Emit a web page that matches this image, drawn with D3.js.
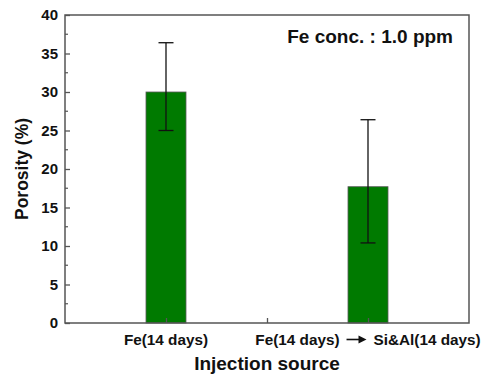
<!DOCTYPE html>
<html><head><meta charset="utf-8">
<script src="https://cdn.jsdelivr.net/npm/d3@7"></script>
<style>body{margin:0;background:#fff}svg{display:block}text{font-family:"Liberation Sans",Arial,sans-serif;font-weight:bold}</style>
</head><body>
<script>
const categories = ["Fe(14 days)", "Fe(14 days) \u2192 Si&Al(14 days)"];
const positions = [1, 3];
const porosity = [30.0, 17.7];
const errUpper = [36.4, 26.4];
const errLower = [25.0, 10.4];
const yTicks = [0, 5, 10, 15, 20, 25, 30, 35, 40];
const annotation = "Fe conc. : 1.0 ppm";

const W = 485, H = 374;
const svg = d3.select("body").append("svg").attr("width", W).attr("height", H);
const L = 65, R = 469, T = 15, B = 323;
const x = d3.scaleLinear().domain([0, 4]).range([L, R]);
const y = d3.scaleLinear().domain([0, 40]).range([B, T]);
const axisColor = "#555";
const ink = "#111";

// bars
svg.selectAll("rect.bar").data(porosity).enter().append("rect")
  .attr("x", (d, i) => x(positions[i]) - 20)
  .attr("width", 40)
  .attr("y", d => y(d))
  .attr("height", d => y(0) - y(d))
  .attr("fill", "#007a00").attr("stroke", "#5a5a5a").attr("stroke-width", 0.8);

// error bars
const eg = svg.append("g").attr("stroke", ink).attr("stroke-width", 1.3);
porosity.forEach((d, i) => {
  const cx = x(positions[i]);
  eg.append("line").attr("x1", cx).attr("x2", cx).attr("y1", y(errUpper[i])).attr("y2", y(errLower[i]));
  eg.append("line").attr("x1", cx - 7.5).attr("x2", cx + 7.5).attr("y1", y(errUpper[i])).attr("y2", y(errUpper[i]));
  eg.append("line").attr("x1", cx - 7.5).attr("x2", cx + 7.5).attr("y1", y(errLower[i])).attr("y2", y(errLower[i]));
});

// frame
svg.append("rect").attr("x", L).attr("y", T).attr("width", R - L).attr("height", B - T)
  .attr("fill", "none").attr("stroke", axisColor).attr("stroke-width", 1.5);

// y axis
const yAxis = d3.axisLeft(y).tickValues(yTicks).tickSize(-5).tickPadding(7).tickFormat(d3.format("d"));
const gy = svg.append("g").attr("transform", `translate(${L},0)`).call(yAxis);
gy.select(".domain").remove();
gy.selectAll(".tick line").attr("stroke", axisColor).attr("stroke-width", 1.3);
gy.selectAll(".tick text").attr("font-size", 15).attr("fill", ink).attr("font-weight", "bold")
  .attr("font-family", '"Liberation Sans",Arial,sans-serif');
// minor y ticks
const minor = d3.range(2.5, 40, 5);
svg.append("g").selectAll("line").data(minor).enter().append("line")
  .attr("x1", L).attr("x2", L + 3).attr("y1", d => y(d)).attr("y2", d => y(d))
  .attr("stroke", axisColor).attr("stroke-width", 1.2);

// x axis
const xAxis = d3.axisBottom(x).tickValues([1, 2, 3]).tickSize(-5).tickFormat(() => "");
const gx = svg.append("g").attr("transform", `translate(0,${B})`).call(xAxis);
gx.select(".domain").remove();
gx.selectAll(".tick line").attr("stroke", axisColor).attr("stroke-width", 1.3);

// category labels
const labY = 345, labFs = 15.3;
svg.append("text").attr("x", x(positions[0])).attr("y", labY).attr("text-anchor", "middle")
  .attr("font-size", labFs).attr("fill", ink).text(categories[0]);
const parts = categories[1].split(" \u2192 ");
const a = svg.append("text").attr("y", labY).attr("font-size", labFs).attr("fill", ink).text(parts[0]);
const b = svg.append("text").attr("y", labY).attr("font-size", labFs).attr("fill", ink).text(parts[1]);
const wa = a.node().getComputedTextLength(), wb = b.node().getComputedTextLength();
const gap = 7, arrowW = 20;
const total = wa + gap + arrowW + gap + wb;
const x0 = x(positions[1]) - total / 2;
a.attr("x", x0);
const ax = x0 + wa + gap;
b.attr("x", ax + arrowW + gap);
const ay = labY - 5.5;
svg.append("line").attr("x1", ax).attr("x2", ax + arrowW - 6).attr("y1", ay).attr("y2", ay)
  .attr("stroke", ink).attr("stroke-width", 1.6);
svg.append("path").attr("d", `M${ax + arrowW},${ay} L${ax + arrowW - 8},${ay - 4} L${ax + arrowW - 8},${ay + 4} Z`)
  .attr("fill", ink);

// axis titles
svg.append("text").attr("x", x(2)).attr("y", 370).attr("text-anchor", "middle")
  .attr("font-size", 19).attr("fill", ink).text("Injection source");
svg.append("text").attr("transform", `translate(28,${(T + B) / 2}) rotate(-90)`).attr("text-anchor", "middle")
  .attr("font-size", 17.5).attr("fill", ink).text("Porosity (%)");

// annotation
svg.append("text").attr("x", 453).attr("y", 43).attr("text-anchor", "end")
  .attr("font-size", 19).attr("fill", ink).text(annotation);
</script>
</body></html>
